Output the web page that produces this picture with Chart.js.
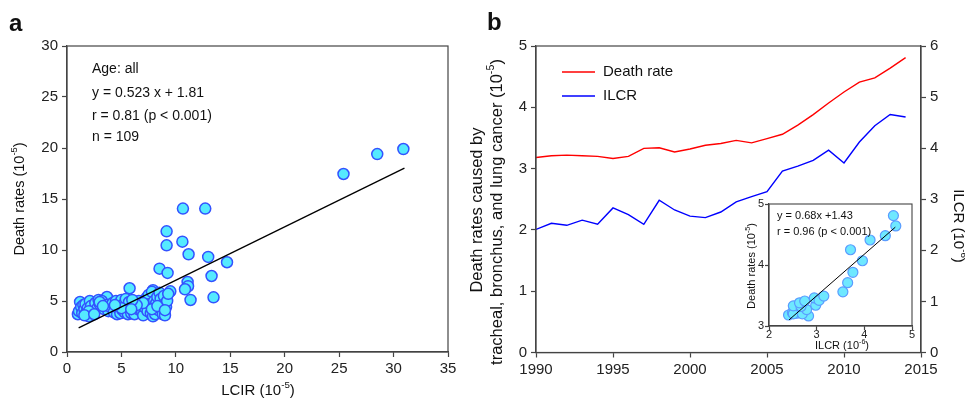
<!DOCTYPE html>
<html>
<head>
<meta charset="utf-8">
<script src="https://cdn.jsdelivr.net/npm/chart.js@4"></script>
<style>
html, body { margin: 0; padding: 0; background: #fff; }
#wrap { position: relative; width: 965px; height: 400px; }
canvas { position: absolute; }
#chartA { left: 0; top: 0; }
#chartB { left: 460px; top: 0; }
#chartC { left: 720px; top: 195px; }
</style>
</head>
<body>
<div id="wrap">
  <canvas id="chartA" width="460" height="400" style="width:460px;height:400px"></canvas>
  <canvas id="chartB" width="505" height="400" style="width:505px;height:400px"></canvas>
  <canvas id="chartC" width="200" height="165" style="width:200px;height:165px"></canvas>
</div>
<script>
// panel a: LCIR vs death rates, 109 locations
const lcir = [25.4, 28.5, 30.9, 10.65, 12.7, 9.15, 10.6, 9.15, 11.17, 12.97, 14.7, 8.5, 9.24, 13.28, 11.08, 11.12, 10.84, 13.46, 11.35, 9.49, 3.67, 5.75, 7.9,
  1.0, 1.1, 1.2, 1.3, 1.4, 1.5, 1.6, 1.7, 1.8, 1.9, 2.0, 2.1, 2.2, 2.4, 2.6, 2.8, 2.9, 3.0, 3.2, 3.4,
  3.6, 3.8, 4.0, 4.2, 4.3, 4.5, 4.6, 4.7, 4.8, 4.9, 5.0, 5.1, 5.2, 5.3, 5.4, 5.5, 5.6, 5.7, 5.9, 6.0,
  6.1, 6.2, 6.3, 6.5, 6.6, 6.8, 6.9, 7.0, 7.1, 7.2, 7.3, 7.4, 7.5, 7.6, 7.7, 7.8, 7.9, 8.0, 8.0, 8.1,
  8.2, 8.3, 8.4, 8.5, 8.6, 8.7, 8.8, 8.9, 9.0, 9.1, 9.2, 9.3, 7.0, 6.4, 5.0, 3.0, 2.0, 1.6, 4.4, 6.0,
  7.8, 8.3, 9.0, 2.5, 3.3, 5.9];
const deathA = [17.45, 19.4, 19.9, 14.06, 14.06, 11.83, 10.82, 10.46, 9.58, 9.32, 8.8, 8.17, 7.75, 7.45, 6.86, 6.45, 6.15, 5.36, 5.1, 5.95, 5.39, 6.25, 6.05,
  3.7, 4.0, 4.9, 4.4, 3.8, 4.6, 4.2, 4.7, 3.9, 4.3, 3.5, 5.0, 4.5, 4.1, 4.8, 4.3, 5.1, 4.7, 5.0, 4.2,
  4.6, 4.0, 4.4, 4.8, 3.9, 5.0, 3.7, 4.3, 4.6, 3.8, 5.1, 4.1, 4.7, 3.9, 5.2, 4.4, 3.7, 4.9, 3.8, 4.5,
  4.0, 3.7, 4.8, 4.2, 5.0, 4.6, 3.9, 3.6, 4.4, 4.9, 5.3, 4.0, 5.6, 4.7, 3.8, 5.9, 3.5, 4.3, 5.0, 3.7,
  4.8, 5.4, 4.1, 5.8, 5.2, 4.6, 3.7, 5.5, 3.6, 4.4, 5.0, 5.7, 4.8, 4.6, 4.3, 4.9, 4.0, 3.6, 4.6, 5.1,
  4.2, 4.5, 4.1, 3.7, 4.5, 4.2];
const fitA = [{x: 1.07, y: 2.37}, {x: 31.0, y: 18.02}];

// panel b: yearly series
const years = [1990, 1991, 1992, 1993, 1994, 1995, 1996, 1997, 1998, 1999, 2000, 2001, 2002,
  2003, 2004, 2005, 2006, 2007, 2008, 2009, 2010, 2011, 2012, 2013, 2014];
const deathRate = [3.18, 3.21, 3.22, 3.21, 3.20, 3.165, 3.20, 3.33, 3.34, 3.27, 3.32, 3.38, 3.41,
  3.46, 3.42, 3.49, 3.56, 3.71, 3.88, 4.07, 4.25, 4.41, 4.48, 4.64, 4.81];
const ilcr = [2.41, 2.53, 2.49, 2.59, 2.51, 2.83, 2.70, 2.51, 2.98, 2.79, 2.67, 2.64, 2.75,
  2.95, 3.05, 3.15, 3.55, 3.65, 3.76, 3.96, 3.71, 4.12, 4.44, 4.66, 4.61];
const fitInset = [{x: 2.42, y: 3.1}, {x: 4.65, y: 4.62}];

const FONT = "'Liberation Sans', Arial, sans-serif";
Chart.defaults.font.family = FONT;
Chart.defaults.color = '#222';

// text with superscript parts: [[text, isSup], ...]
function richText(ctx, parts, x, y, size, align) {
  let w = 0;
  parts.forEach(p => {
    ctx.font = (p[1] ? size * 0.65 : size) + 'px ' + FONT;
    w += ctx.measureText(p[0]).width;
  });
  let cx = align === 'center' ? x - w / 2 : x;
  ctx.textAlign = 'left';
  ctx.textBaseline = 'middle';
  ctx.fillStyle = '#111';
  parts.forEach(p => {
    const s = p[1] ? size * 0.65 : size;
    ctx.font = s + 'px ' + FONT;
    ctx.fillText(p[0], cx, p[1] ? y - size * 0.38 : y);
    cx += ctx.measureText(p[0]).width;
  });
}

function rotated(ctx, x, y, angle, fn) {
  ctx.save();
  ctx.translate(x, y);
  ctx.rotate(angle);
  fn();
  ctx.restore();
}

function boxAround(chart, width) {
  const a = chart.chartArea;
  const ctx = chart.ctx;
  ctx.save();
  ctx.strokeStyle = '#444';
  ctx.lineWidth = width;
  ctx.strokeRect(a.left, a.top, a.right - a.left, a.bottom - a.top);
  ctx.restore();
}

function axisOpts(min, max, step, size, tickLen, pad, extra) {
  return Object.assign({
    type: 'linear', min: min, max: max,
    ticks: { stepSize: step, font: { size: size }, color: '#222', padding: pad },
    grid: { drawOnChartArea: false, tickLength: tickLen, tickColor: '#444', tickWidth: 1.2 },
    border: { color: '#444', width: 1.2 }
  }, extra);
}

const panelA = {
  id: 'panelA',
  afterDraw(chart) {
    const ctx = chart.ctx;
    boxAround(chart, 1.2);
    ctx.save();
    ctx.fillStyle = '#111';
    ctx.font = 'bold 24px ' + FONT;
    ctx.textBaseline = 'middle';
    ctx.fillText('a', 9, 24);
    ctx.font = '14px ' + FONT;
    ctx.fillText('Age: all', 92, 69);
    ctx.fillText('y = 0.523 x + 1.81', 92, 93);
    ctx.fillText('r = 0.81 (p < 0.001)', 92, 116);
    ctx.fillText('n = 109', 92, 137);
    richText(ctx, [['LCIR (10', false], ['-5', true], [')', false]], 258, 391, 15, 'center');
    rotated(ctx, 20, 199, -Math.PI / 2, () => {
      richText(ctx, [['Death rates (10', false], ['-5', true], [')', false]], 0, 0, 14.5, 'center');
    });
    ctx.restore();
  }
};

new Chart(document.getElementById('chartA'), {
  type: 'scatter',
  data: {
    datasets: [
      { type: 'line', data: fitA, borderColor: '#000', borderWidth: 1.3, pointRadius: 0, fill: false },
      {
        data: lcir.map((x, i) => ({ x: x, y: deathA[i] })),
        backgroundColor: '#55eaff', borderColor: '#3352ff', borderWidth: 1.5, pointRadius: 5.5
      }
    ]
  },
  options: {
    responsive: false, animation: false,
    layout: { padding: { top: 46, right: 12, left: 0, bottom: 0 }, autoPadding: false },
    plugins: { legend: { display: false }, tooltip: { enabled: false } },
    scales: {
      x: axisOpts(0, 35, 5, 15, 5, 3, { afterFit: s => { s.height = 48; } }),
      y: axisOpts(0, 30, 5, 15, 5, 4, { afterFit: s => { s.width = 67; } })
    }
  },
  plugins: [panelA]
});

const panelB = {
  id: 'panelB',
  afterDraw(chart) {
    const ctx = chart.ctx;
    boxAround(chart, 1.2);
    ctx.save();
    ctx.fillStyle = '#111';
    ctx.font = 'bold 24px ' + FONT;
    ctx.textBaseline = 'middle';
    ctx.fillText('b', 27, 23);
    // legend
    ctx.lineWidth = 1.5;
    ctx.strokeStyle = '#ff0000';
    ctx.beginPath(); ctx.moveTo(102, 72); ctx.lineTo(135, 72); ctx.stroke();
    ctx.strokeStyle = '#0000ff';
    ctx.beginPath(); ctx.moveTo(102, 96); ctx.lineTo(135, 96); ctx.stroke();
    ctx.font = '15px ' + FONT;
    ctx.fillStyle = '#111';
    ctx.fillText('Death rate', 143, 72);
    ctx.fillText('ILCR', 143, 96);
    rotated(ctx, 17, 210, -Math.PI / 2, () => {
      richText(ctx, [['Death rates caused by', false]], 0, 0, 16.5, 'center');
    });
    rotated(ctx, 37, 212, -Math.PI / 2, () => {
      richText(ctx, [['tracheal, bronchus, and lung cancer (10', false], ['-5', true], [')', false]], 0, 0, 16.5, 'center');
    });
    rotated(ctx, 498, 226, Math.PI / 2, () => {
      richText(ctx, [['ILCR (10', false], ['-6', true], [')', false]], 0, 0, 15, 'center');
    });
    ctx.restore();
  }
};

new Chart(document.getElementById('chartB'), {
  type: 'line',
  data: {
    datasets: [
      {
        label: 'Death rate', data: years.map((x, i) => ({ x: x, y: deathRate[i] })),
        borderColor: '#ff0000', borderWidth: 1.4, pointRadius: 0, yAxisID: 'y', tension: 0
      },
      {
        label: 'ILCR', data: years.map((x, i) => ({ x: x, y: ilcr[i] })),
        borderColor: '#0000ff', borderWidth: 1.4, pointRadius: 0, yAxisID: 'y1', tension: 0
      }
    ]
  },
  options: {
    responsive: false, animation: false,
    layout: { padding: { top: 46, right: 0, left: 0, bottom: 0 }, autoPadding: false },
    plugins: { legend: { display: false }, tooltip: { enabled: false } },
    scales: {
      x: axisOpts(1990, 2015, 5, 15, 5, 3, {
        afterFit: s => { s.height = 47.5; }
      }),
      y: axisOpts(0, 5, 1, 15, 5, 4, { position: 'left', afterFit: s => { s.width = 76; } }),
      y1: axisOpts(0, 6, 1, 15, 5, 4, { position: 'right', afterFit: s => { s.width = 44; } })
    }
  },
  plugins: [panelB]
});
Chart.getChart('chartB').options.scales.x.ticks.callback = v => String(v);
Chart.getChart('chartB').update();

const panelC = {
  id: 'panelC',
  beforeDraw(chart) {
    const a = chart.chartArea;
    chart.ctx.save();
    chart.ctx.fillStyle = '#fff';
    chart.ctx.fillRect(a.left, a.top, a.right - a.left, a.bottom - a.top);
    chart.ctx.restore();
  },
  afterDraw(chart) {
    const ctx = chart.ctx;
    boxAround(chart, 1.1);
    ctx.save();
    ctx.fillStyle = '#111';
    ctx.font = '11px ' + FONT;
    ctx.textBaseline = 'middle';
    ctx.fillText('y = 0.68x +1.43', 57, 21);
    ctx.fillText('r = 0.96 (p < 0.001)', 57, 37);
    richText(ctx, [['ILCR (10', false], ['-6', true], [')', false]], 122, 151, 11, 'center');
    rotated(ctx, 32, 71, -Math.PI / 2, () => {
      richText(ctx, [['Death rates (10', false], ['-5', true], [')', false]], 0, 0, 11, 'center');
    });
    ctx.restore();
  }
};

new Chart(document.getElementById('chartC'), {
  type: 'scatter',
  data: {
    datasets: [
      { type: 'line', data: fitInset, borderColor: '#000', borderWidth: 1, pointRadius: 0, fill: false },
      {
        data: ilcr.map((x, i) => ({ x: x, y: deathRate[i] })),
        backgroundColor: '#6ee8ff', borderColor: '#5a9cff', borderWidth: 1.2, pointRadius: 5
      }
    ]
  },
  options: {
    responsive: false, animation: false,
    layout: { padding: { top: 9, right: 8, left: 0, bottom: 0 }, autoPadding: false },
    plugins: { legend: { display: false }, tooltip: { enabled: false } },
    scales: {
      x: axisOpts(2, 5, 1, 11, 4, -2, { afterFit: s => { s.height = 34; } }),
      y: axisOpts(3, 5, 1, 11, 4, 1, { afterFit: s => { s.width = 49; } })
    }
  },
  plugins: [panelC]
});
</script>
</body>
</html>
